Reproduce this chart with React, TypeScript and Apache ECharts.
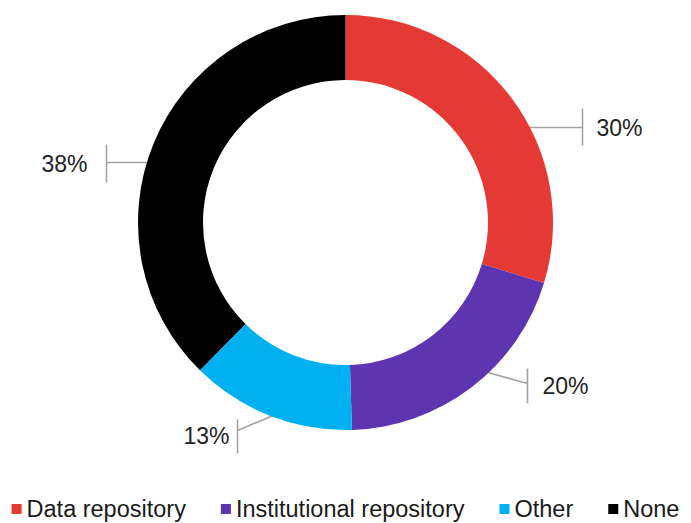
import React, { useEffect, useRef } from "react";
import * as echarts from "echarts";

const categories = ["Data repository", "Institutional repository", "Other", "None"];
const values = [30, 20, 13, 38];
const colors = ["#e53935", "#5e35b1", "#00b0f0", "#000000"];

// label layout (pixel offsets relative to pie centre): line start, line end (tick), tick top/bottom, text anchor
const LABEL_LAYOUT = [
  { sx: 176, sy: -95, ex: 237, ey: -95, t0: -114, t1: -77, tx: 251, align: "left" },
  { sx: 128, sy: 146, ex: 182, ey: 161, t0: 146, t1: 181, tx: 197, align: "right-side" },
  { sx: -51, sy: 184, ex: -108, ey: 208, t0: 197, t1: 231, tx: -116, align: "right" },
  { sx: -198, sy: -60, ex: -239, ey: -60, t0: -78, t1: -40, tx: -258, align: "right" },
];
const TEXT_DY = [-95, 163, 213, -59];

export default function App() {
  const ref = useRef<HTMLDivElement>(null);
  useEffect(() => {
    document.body.style.margin = "0";
    if (!ref.current) return;
    const chart = echarts.init(ref.current, null, { renderer: "svg" });
    const cx = chart.getWidth() / 2;
    const cy = 222.5;
    chart.setOption({
      animation: false,
      backgroundColor: "#ffffff",
      color: colors,
      legend: {
        data: categories,
        left: "center",
        top: 491,
        icon: "rect",
        itemWidth: 10,
        itemHeight: 10,
        itemGap: 35,
        textStyle: { fontFamily: "Liberation Sans, Arial, sans-serif", fontSize: 23.5, lineHeight: 26, color: "#1a1a1a" },
      },
      series: [
        {
          type: "pie",
          center: [cx, cy],
          radius: [142.5, 207.5],
          startAngle: 90,
          clockwise: true,
          data: categories.map((name, i) => ({ name, value: values[i] })),
          label: {
            show: true,
            position: "outside",
            formatter: "{c}%",
            fontFamily: "Liberation Sans, Arial, sans-serif",
            fontSize: 23,
            color: "#222222",
          },
          labelLine: {
            show: true,
            lineStyle: { color: "#a3a3a3", width: 1.6 },
          },
          labelLayout: (params: any) => {
            const L = LABEL_LAYOUT[params.dataIndex];
            const isLeft = L.align === "right";
            return {
              x: cx + L.tx,
              y: cy + TEXT_DY[params.dataIndex],
              align: isLeft ? "right" : "left",
              verticalAlign: "middle",
              labelLinePoints: [
                [cx + L.sx, cy + L.sy],
                [cx + L.ex, cy + L.ey],
                [cx + L.ex, cy + L.t0],
                [cx + L.ex, cy + L.t1],
              ],
            };
          },
          emphasis: { disabled: true },
        },
      ],
    });
    return () => chart.dispose();
  }, []);
  return <div ref={ref} style={{ width: 691, height: 523 }} />;
}
